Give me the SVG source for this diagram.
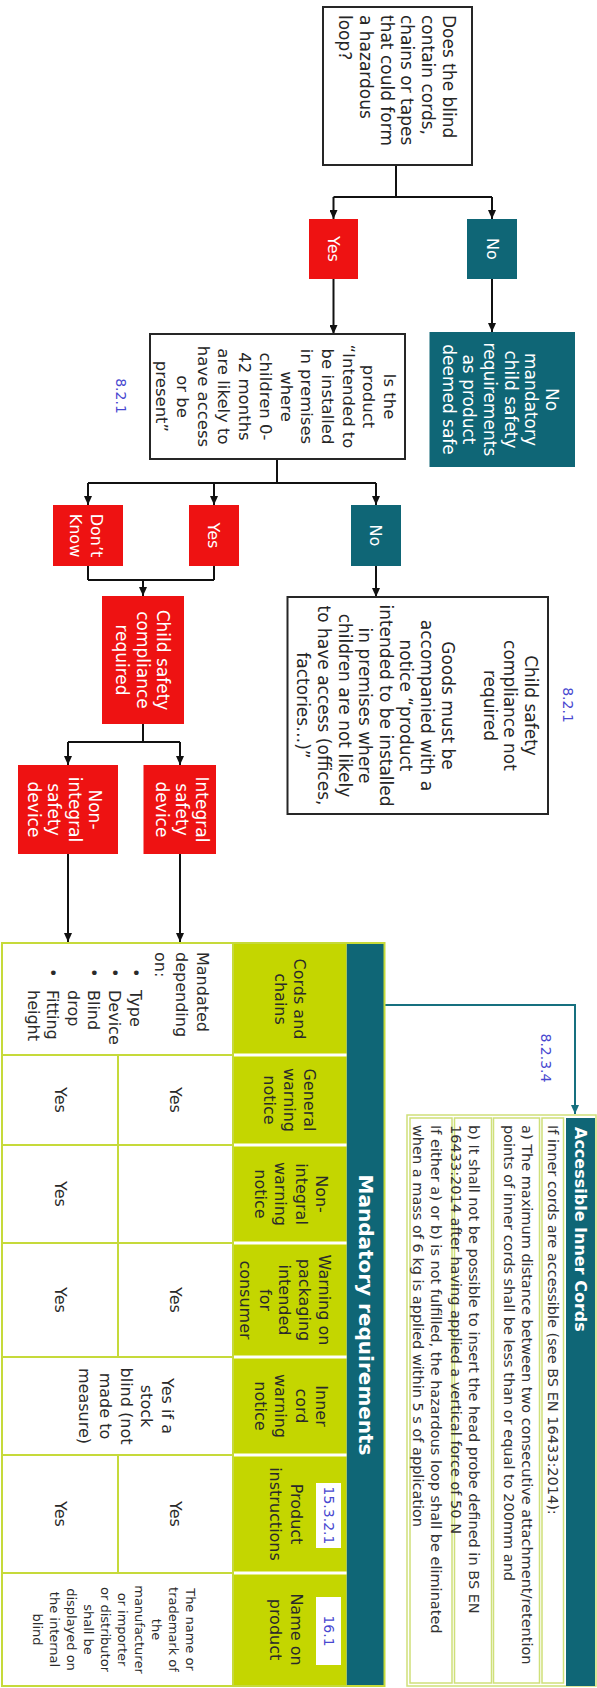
<svg xmlns="http://www.w3.org/2000/svg" width="597" height="1688" viewBox="0 0 597 1688">
<defs>
<marker id="ah" markerWidth="9" markerHeight="8" refX="9" refY="4" orient="auto" markerUnits="userSpaceOnUse"><path d="M0,0 L9,4 L0,8 z" fill="#111"/></marker>
<marker id="aht" markerWidth="9" markerHeight="8" refX="9" refY="4" orient="auto" markerUnits="userSpaceOnUse"><path d="M0,0 L9,4 L0,8 z" fill="#16707f"/></marker>
</defs>
<style>
text{font-family:"DejaVu Sans",Verdana,sans-serif}
.fc{font-size:17px;fill:#262626}
.fs{font-size:16px;fill:#262626}
.fm{font-size:16.5px;fill:#262626}
.w{fill:#ffffff}
.c{text-anchor:middle}
.box{fill:#fff;stroke:#262626;stroke-width:2}
.red{fill:#ee1212}
.teal{fill:#0f6676}
.ln{fill:none;stroke:#111;stroke-width:2}
.tl{fill:none;stroke:#16707f;stroke-width:2}
.lbl{font-size:14px;fill:#4848d0}
.tb{font-size:16px;fill:#2a2a2a}
.sm{font-size:13px;fill:#2a2a2a}
.ac{font-size:14.5px;fill:#333}
.lime{fill:#c4d600}
.grid{fill:none;stroke:#c6da3a;stroke-width:2}
.wl{stroke:#fff;stroke-width:3}
.cell{fill:#fff;stroke:#cfe07a;stroke-width:1.5}
</style>
<rect width="597" height="1688" fill="#fff"/>
<g transform="translate(597,0) rotate(90)">

<g id="connectors">
<path class="ln" d="M165,201 H197"/>
<path class="ln" d="M197,105 V263.5"/>
<path class="ln" d="M197,105 H219" marker-end="url(#ah)"/>
<path class="ln" d="M197,263.5 H219" marker-end="url(#ah)"/>
<path class="ln" d="M279,263.5 H334" marker-end="url(#ah)"/>
<path class="ln" d="M279,105 H332" marker-end="url(#ah)"/>
<path class="ln" d="M459,320 H483"/>
<path class="ln" d="M483,221 V509"/>
<path class="ln" d="M483,221 H505" marker-end="url(#ah)"/>
<path class="ln" d="M483,383 H505" marker-end="url(#ah)"/>
<path class="ln" d="M483,509 H505" marker-end="url(#ah)"/>
<path class="ln" d="M566,221 H597" marker-end="url(#ah)"/>
<path class="ln" d="M566,509 H580"/>
<path class="ln" d="M566,383 H580"/>
<path class="ln" d="M580,383 V509"/>
<path class="ln" d="M580,454 H596" marker-end="url(#ah)"/>
<path class="ln" d="M724,454 H742"/>
<path class="ln" d="M742,417 V529"/>
<path class="ln" d="M742,417 H765" marker-end="url(#ah)"/>
<path class="ln" d="M742,529 H765" marker-end="url(#ah)"/>
<path class="ln" d="M854,417 H942" marker-end="url(#ah)"/>
<path class="ln" d="M854,529 H942" marker-end="url(#ah)"/>
<path class="tl" d="M1005,212.5 V22 H1114" marker-end="url(#aht)"/>
</g>

<g id="q1">
<rect class="box" x="7" y="125" width="158" height="149"/>
<text class="fc" x="15" y="154">Does the blind<tspan x="15" dy="20.8">contain cords,</tspan><tspan x="15" dy="20.8">chains or tapes</tspan><tspan x="15" dy="20.8">that could form</tspan><tspan x="15" dy="20.8">a hazardous</tspan><tspan x="15" dy="20.8">loop?</tspan></text>
</g>

<g id="yes1">
<rect class="red" x="219" y="239" width="60" height="49"/>
<text class="fs w c" x="249" y="269.5">Yes</text>
</g>

<g id="no1">
<rect class="teal" x="219" y="80" width="60" height="50"/>
<text class="fs w c" x="249" y="110.5">No</text>
</g>

<g id="q2">
<rect class="box" x="334" y="192" width="125" height="255"/>
<text class="fm c" x="396.5" y="213">Is the<tspan x="396.5" dy="20.7">product</tspan><tspan x="396.5" dy="20.7">“Intended to</tspan><tspan x="396.5" dy="20.7">be installed</tspan><tspan x="396.5" dy="20.7">in premises</tspan><tspan x="396.5" dy="20.7">where</tspan><tspan x="396.5" dy="20.7">children 0-</tspan><tspan x="396.5" dy="20.7">42 months</tspan><tspan x="396.5" dy="20.7">are likely to</tspan><tspan x="396.5" dy="20.7">have access</tspan><tspan x="396.5" dy="20.7">or be</tspan><tspan x="396.5" dy="20.7">present”</tspan></text>
</g>

<g id="label-821a">
<text class="lbl c" x="396" y="481">8.2.1</text>
</g>

<g id="nomand">
<rect class="teal" x="332" y="22" width="135" height="145.5"/>
<text class="fc w c" x="399.5" y="51">No<tspan x="399.5" dy="20.7">mandatory</tspan><tspan x="399.5" dy="20.7">child safety</tspan><tspan x="399.5" dy="20.7">requirements</tspan><tspan x="399.5" dy="20.7">as product</tspan><tspan x="399.5" dy="20.7">deemed safe</tspan></text>
</g>

<g id="dontknow">
<rect class="red" x="505" y="474" width="61" height="70"/>
<text class="fs w c" x="535.5" y="506">Don’t<tspan x="535.5" dy="21">Know</tspan></text>
</g>

<g id="yes2">
<rect class="red" x="505" y="358" width="61" height="50"/>
<text class="fs w c" x="535.5" y="389">Yes</text>
</g>

<g id="no2">
<rect class="teal" x="505" y="196" width="61" height="50"/>
<text class="fs w c" x="535.5" y="227">No</text>
</g>

<g id="csr">
<rect class="red" x="596" y="413" width="128" height="82"/>
<text class="fc w c" x="660" y="440">Child safety<tspan x="660" dy="20.5">compliance</tspan><tspan x="660" dy="20.5">required</tspan></text>
</g>

<g id="notreq">
<rect class="box" x="597" y="49" width="217" height="260.5"/>
<text class="fc c" x="705.5" y="72">Child safety<tspan x="705.5" dy="20.6">compliance not</tspan><tspan x="705.5" dy="20.6">required</tspan><tspan x="705.5" dy="42.3">Goods must be</tspan><tspan x="705.5" dy="20.6">accompanied with a</tspan><tspan x="705.5" dy="20.6">notice “product</tspan><tspan x="705.5" dy="20.6">intended to be installed</tspan><tspan x="705.5" dy="20.6">in premises where</tspan><tspan x="705.5" dy="20.6">children are not likely</tspan><tspan x="705.5" dy="20.6">to have access (offices,</tspan><tspan x="705.5" dy="20.6">factories…)”</tspan></text>
</g>

<g id="label-821b">
<text class="lbl c" x="705" y="34">8.2.1</text>
</g>

<g id="integral">
<rect class="red" x="765" y="381" width="89" height="72.5"/>
<text class="fc w c" x="809.5" y="401">Integral<tspan x="809.5" dy="20.2">safety</tspan><tspan x="809.5" dy="20.2">device</tspan></text>
</g>

<g id="nonintegral">
<rect class="red" x="765" y="479" width="89" height="100"/>
<text class="fc w c" x="809.5" y="508">Non-<tspan x="809.5" dy="20.5">integral</tspan><tspan x="809.5" dy="20.5">safety</tspan><tspan x="809.5" dy="20.5">device</tspan></text>
</g>

<g id="label-8234">
<text class="lbl c" x="1058" y="56">8.2.3.4</text>
</g>

<g id="table">
<rect x="943" y="212.5" width="743" height="382.5" fill="#fff"/>
<rect class="teal" x="943" y="212.5" width="743" height="38"/>
<text x="1315" y="238" fill="#fff" font-size="20" font-weight="bold" text-anchor="middle">Mandatory requirements</text>
<rect class="lime" x="943" y="250.5" width="743" height="113.5"/>
<path class="wl" d="M1055,250.5 V364 M1145,250.5 V364 M1243,250.5 V364 M1357,250.5 V364 M1455,250.5 V364 M1573,250.5 V364"/>
<path class="grid" d="M943,364 H1686 M1055,364 V595 M1145,364 V595 M1243,364 V595 M1357,364 V595 M1455,364 V595 M1573,364 V595 M1055,479 H1357 M1455,479 H1573"/>
<rect class="grid" x="943" y="212.5" width="743" height="382.5"/>

<text class="tb c" x="999" y="303">Cords and<tspan x="999" dy="19.5">chains</tspan></text>
<text class="tb c" x="1100" y="293">General<tspan x="1100" dy="20">warning</tspan><tspan x="1100" dy="20">notice</tspan></text>
<text class="tb c" x="1194" y="281">Non-<tspan x="1194" dy="20.3">integral</tspan><tspan x="1194" dy="20.3">warning</tspan><tspan x="1194" dy="20.3">notice</tspan></text>
<text class="tb c" x="1300" y="278">Warning on<tspan x="1300" dy="19.8">packaging</tspan><tspan x="1300" dy="19.8">intended</tspan><tspan x="1300" dy="19.8">for</tspan><tspan x="1300" dy="19.8">consumer</tspan></text>
<text class="tb c" x="1406" y="281">Inner<tspan x="1406" dy="20.3">cord</tspan><tspan x="1406" dy="20.3">warning</tspan><tspan x="1406" dy="20.3">notice</tspan></text>
<rect x="1483" y="256" width="65" height="25" fill="#fff"/>
<text class="lbl c" x="1515.5" y="273.5">15.3.2.1</text>
<text class="tb c" x="1514" y="306">Product<tspan x="1514" dy="21">instructions</tspan></text>
<rect x="1597" y="256" width="68" height="25" fill="#fff"/>
<text class="lbl c" x="1631" y="273.5">16.1</text>
<text class="tb c" x="1629.5" y="306">Name on<tspan x="1629.5" dy="21">product</tspan></text>

<text class="tb" x="952" y="400.5">Mandated<tspan x="952" dy="21">depending</tspan><tspan x="952" dy="21">on:</tspan><tspan x="968" dy="25">•</tspan><tspan x="990" dy="0">Type</tspan><tspan x="968" dy="21">•</tspan><tspan x="990" dy="0">Device</tspan><tspan x="968" dy="21">•</tspan><tspan x="990" dy="0">Blind</tspan><tspan x="990" dy="19.5">drop</tspan><tspan x="968" dy="21">•</tspan><tspan x="990" dy="0">Fitting</tspan><tspan x="990" dy="19.5">height</tspan></text>

<text class="tb c" x="1100" y="427">Yes</text>
<text class="tb c" x="1100" y="542.5">Yes</text>
<text class="tb c" x="1194" y="542.5">Yes</text>
<text class="tb c" x="1300" y="427">Yes</text>
<text class="tb c" x="1300" y="542.5">Yes</text>
<text class="tb c" x="1406" y="435">Yes if a<tspan x="1406" dy="20.7">stock</tspan><tspan x="1406" dy="20.7">blind (not</tspan><tspan x="1406" dy="20.7">made to</tspan><tspan x="1406" dy="20.7">measure)</tspan></text>
<text class="tb c" x="1514" y="427">Yes</text>
<text class="tb c" x="1514" y="542.5">Yes</text>
<text class="sm c" x="1629.5" y="411">The name or<tspan x="1629.5" dy="17">trademark of</tspan><tspan x="1629.5" dy="17">the</tspan><tspan x="1629.5" dy="17">manufacturer</tspan><tspan x="1629.5" dy="17">or importer</tspan><tspan x="1629.5" dy="17">or distributor</tspan><tspan x="1629.5" dy="17">shall be</tspan><tspan x="1629.5" dy="17">displayed on</tspan><tspan x="1629.5" dy="17">the internal</tspan><tspan x="1629.5" dy="17">blind</tspan></text>
</g>

<g id="accessible">
<rect x="1115" y="1" width="571" height="189" fill="#fff" stroke="#cfe07a" stroke-width="1.5"/>
<rect class="teal" x="1118" y="2" width="568" height="29"/>
<text x="1127" y="22" fill="#fff" font-size="16" font-weight="bold">Accessible Inner Cords</text>
<rect class="cell" x="1118" y="33.5" width="565" height="21.5"/>
<rect class="cell" x="1118" y="57.5" width="565" height="46"/>
<rect class="cell" x="1118" y="105.5" width="565" height="37"/>
<rect class="cell" x="1118" y="145" width="565" height="42"/>
<text class="ac" x="1125" y="49">If inner cords are accessible (see BS EN 16433:2014):</text>
<text class="ac" x="1125" y="75">a) The maximum distance between two consecutive attachment/retention<tspan x="1125" dy="18.5">points of inner cords shall be less than or equal to 200mm and</tspan></text>
<text class="ac" x="1125" y="128">b) It shall not be possible to insert the head probe defined in BS EN<tspan x="1125" dy="18">16433:2014 after having applied a vertical force of 50 N</tspan></text>
<text class="ac" x="1125" y="166">If either a) or b) is not fulfilled, the hazardous loop shall be eliminated<tspan x="1125" dy="18">when a mass of 6 kg is applied within 5 s of application</tspan></text>
</g>

</g>
</svg>
